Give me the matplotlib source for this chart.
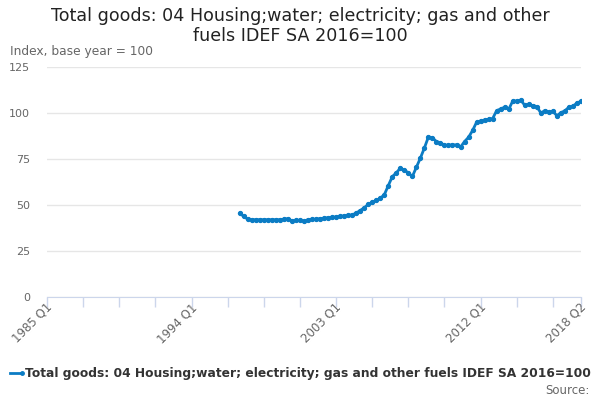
import matplotlib
matplotlib.use("Agg")
import matplotlib.pyplot as plt

# quarterly index values, 1997 Q1 .. 2018 Q2
start_quarter = 48  # quarters after 1985 Q1
values = [
    45.5, 43.8, 42.3, 42.0, 42.0, 42.0, 42.0, 42.0, 42.0, 42.0,
    42.0, 42.2, 42.6, 41.4, 41.6, 41.6, 41.2, 42.0, 42.2, 42.3,
    42.6, 42.8, 43.1, 43.3, 43.5, 43.8, 44.1, 44.4, 44.6, 45.6,
    47.0, 48.5, 50.3, 51.5, 52.5, 53.7, 55.5, 60.5, 65.4, 67.5,
    70.0, 69.0, 67.5, 65.5, 70.5, 75.5, 81.0, 87.0, 86.5, 84.5,
    83.8, 82.5, 82.5, 82.7, 82.7, 81.5, 84.5, 86.8, 90.5, 95.0,
    95.7, 96.2, 96.6, 97.0, 101.3, 102.2, 103.2, 102.0, 106.5, 106.5,
    107.0, 104.2, 104.7, 104.0, 103.5, 100.0, 101.3, 100.5, 101.0, 98.5,
    100.2, 101.2, 103.2, 103.6, 105.5, 106.3,
]
tick_pos = list(range(0, 133, 9)) + [133]
label_pos = [0, 36, 72, 108, 133]
label_txt = ["1985 Q1", "1994 Q1", "2003 Q1", "2012 Q1", "2018 Q2"]
series_name = "Total goods: 04 Housing;water; electricity; gas and other fuels IDEF SA 2016=100"

blue = "#0b7cc4"
grey = "#666666"

fig = plt.figure(figsize=(6, 4), dpi=100)
ax = fig.add_axes([0.0783, 0.2575, 0.89, 0.575])

x = [start_quarter + i for i in range(len(values))]
ax.plot(x, values, color=blue, lw=2, marker="o", ms=2.8, zorder=3)

ax.set_xlim(0, 133)
ax.set_ylim(0, 125)
ax.set_yticks([0, 25, 50, 75, 100, 125])
ax.grid(axis="y", color="#e6e6e6", lw=1)
ax.set_axisbelow(True)
for s in ["top", "right", "left"]:
    ax.spines[s].set_visible(False)
ax.spines["bottom"].set_color("#ccd6eb")
ax.tick_params(axis="y", length=0, pad=12, labelcolor=grey, labelsize=8)

ax.set_xticks(tick_pos)
ax.set_xticklabels(["" for _ in tick_pos])
ax.tick_params(axis="x", length=7.5, color="#ccd6eb", width=1)
for p, t in zip(label_pos, label_txt):
    ax.text(p + 0.8, -4.5, t, rotation=45, ha="right", va="center", rotation_mode="anchor",
            fontsize=8.5, color=grey)

fig.text(0.5, 0.935, "Total goods: 04 Housing;water; electricity; gas and other\nfuels IDEF SA 2016=100",
         ha="center", va="center", fontsize=12.6, color="#222222", linespacing=1.15)
fig.text(0.017, 0.87, "Index, base year = 100", ha="left", va="center", fontsize=8.8, color=grey)

fig.lines.append(plt.Line2D([0.017, 0.037], [0.0675, 0.0675], transform=fig.transFigure,
                            color=blue, lw=2, marker="o", ms=2.5, markevery=[1]))
fig.text(0.042, 0.0675, series_name, ha="left", va="center", fontsize=8.8,
         fontweight="bold", color="#333333")
fig.text(0.983, 0.025, "Source:", ha="right", va="center", fontsize=8.5, color=grey)

fig.savefig("out.png", dpi=100)
